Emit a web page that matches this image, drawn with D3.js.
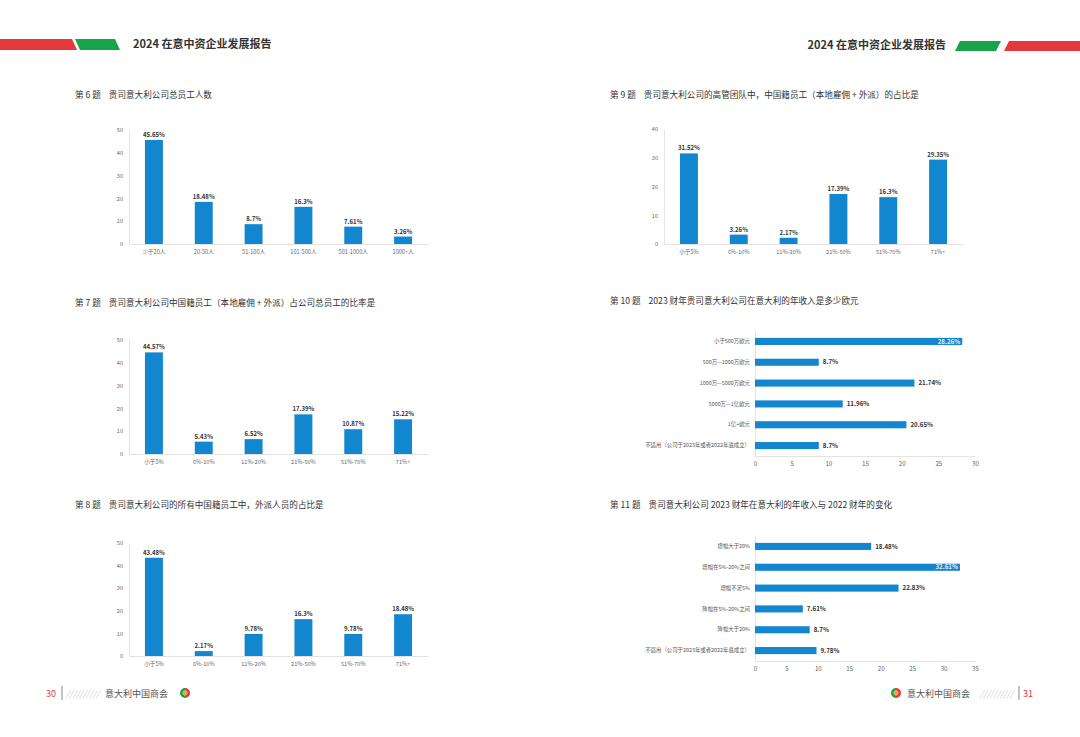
<!DOCTYPE html>
<html>
<head>
<meta charset="utf-8">
<script src="https://cdn.jsdelivr.net/npm/d3@7"></script>
<style>
  body { margin: 0; background: #fff; }
  svg { display: block; font-family: "Noto Sans CJK SC", "Noto Sans", sans-serif; }
</style>
</head>
<body>
<div id="page"></div>
<script>
var sizeCats = ["少于20人", "20-50人", "51-100人", "101-500人", "501-1000人", "1000+人"];
var ratioCats = ["小于5%", "6%-10%", "11%-20%", "21%-50%", "51%-70%", "71%+"];
var q6Values = [45.65, 18.48, 8.7, 16.3, 7.61, 3.26];
var q7Values = [44.57, 5.43, 6.52, 17.39, 10.87, 15.22];
var q8Values = [43.48, 2.17, 9.78, 16.3, 9.78, 18.48];
var q9Values = [31.52, 3.26, 2.17, 17.39, 16.3, 29.35];

var revenueCats = ["小于500万欧元", "500万—1000万欧元", "1000万—5000万欧元", "5000万—1亿欧元", "1亿+欧元", "不适用（公司于2023年或者2022年底成立）"];
var q10Values = [28.26, 8.7, 21.74, 11.96, 20.65, 8.7];
var changeCats = ["增幅大于20%", "增幅在5%-20%之间", "增幅不足5%", "降幅在5%-20%之间", "降幅大于20%", "不适用（公司于2023年或者2022年底成立）"];
var q11Values = [18.48, 32.61, 22.83, 7.61, 8.7, 9.78];

var titles = {
  6: "贵司意大利公司总员工人数",
  7: "贵司意大利公司中国籍员工（本地雇佣 + 外派）占公司总员工的比率是",
  8: "贵司意大利公司的所有中国籍员工中，外派人员的占比是",
  9: "贵司意大利公司的高管团队中，中国籍员工（本地雇佣 + 外派）的占比是",
  10: "2023 财年贵司意大利公司在意大利的年收入是多少欧元",
  11: "贵司意大利公司 2023 财年在意大利的年收入与 2022 财年的变化"
};
var reportTitle = "2024 在意中资企业发展报告";
var orgName = "意大利中国商会";
var pageNums = ["30", "31"];

var W = 1080, H = 737;
var blue = "#1287cf", axisGrey = "#dcdcdc", red = "#e5383b", green = "#17a34a";

var svg = d3.select("#page").append("svg")
  .attr("width", W).attr("height", H);

// ---- header ----
function band(pts, col) {
  svg.append("polygon").attr("points", pts.map(function(p){ return p.join(","); }).join(" ")).attr("fill", col);
}
band([[0,39],[72,39],[77,50],[0,50]], red);
band([[75,39],[115,39],[120,50],[80,50]], green);
svg.append("text").attr("x", 133).attr("y", 48).attr("font-size", 11).attr("font-weight", "bold")
  .attr("fill", "#333").text(reportTitle);

band([[960,41],[1001,41],[996,51],[955,51]], green);
band([[1009,41],[1080,41],[1080,51],[1004,51]], red);
svg.append("text").attr("x", 946).attr("y", 49).attr("font-size", 11).attr("font-weight", "bold")
  .attr("text-anchor", "end").attr("fill", "#333").text(reportTitle);

// ---- question titles ----
function title(num, x, y) {
  var t = svg.append("text").attr("x", x).attr("y", y).attr("font-size", 8.6).attr("fill", "#333")
    .text("第 " + num + " 题");
  var w = t.node().getComputedTextLength();
  svg.append("text").attr("x", x + w + 8).attr("y", y).attr("font-size", 8.6).attr("fill", "#333")
    .text(titles[num]);
}

// ---- vertical bar chart ----
function columnChart(cats, vals, yMax, x0, x1, yTop, yBottom) {
  var x = d3.scaleBand().domain(cats).range([x0, x1]).paddingInner(0.64).paddingOuter(0.32);
  var y = d3.scaleLinear().domain([0, yMax]).range([yBottom, yTop]);
  var g = svg.append("g");

  var ya = g.append("g").attr("transform", "translate(" + x0 + ",0)")
    .call(d3.axisLeft(y).ticks(yMax / 10).tickSize(0).tickPadding(6));
  var xa = g.append("g").attr("transform", "translate(0," + yBottom + ")")
    .call(d3.axisBottom(x).tickSize(0).tickPadding(6));
  [ya, xa].forEach(function(a) {
    a.select(".domain").attr("stroke", axisGrey).attr("stroke-width", 0.8);
    a.selectAll("text").attr("font-size", 5.6).attr("fill", "#666").attr("font-family", "Noto Sans CJK SC");
  });

  g.selectAll("rect.bar").data(vals).enter().append("rect")
    .attr("class", "bar")
    .attr("x", function(d, i) { return x(cats[i]); })
    .attr("width", x.bandwidth())
    .attr("y", function(d) { return y(d); })
    .attr("height", function(d) { return yBottom - y(d); })
    .attr("fill", blue);

  g.selectAll("text.val").data(vals).enter().append("text")
    .attr("class", "val")
    .attr("x", function(d, i) { return x(cats[i]) + x.bandwidth() / 2; })
    .attr("y", function(d) { return y(d) - 3; })
    .attr("text-anchor", "middle").attr("font-size", 6).attr("font-weight", "bold").attr("fill", "#333")
    .text(function(d) { return d + "%"; });
}

// ---- horizontal bar chart ----
function barChart(cats, vals, xMax, x0, x1, yTop, yBottom) {
  var x = d3.scaleLinear().domain([0, xMax]).range([x0, x1]);
  var y = d3.scaleBand().domain(cats).range([yTop, yBottom]).paddingInner(0.66).paddingOuter(0.33);
  var g = svg.append("g");

  var xa = g.append("g").attr("transform", "translate(0," + yBottom + ")")
    .call(d3.axisBottom(x).ticks(xMax / 5).tickSize(0).tickPadding(6));
  var ya = g.append("g").attr("transform", "translate(" + x0 + ",0)")
    .call(d3.axisLeft(y).tickSize(0).tickPadding(5));
  xa.select(".domain").attr("stroke", axisGrey).attr("stroke-width", 0.8);
  ya.select(".domain").attr("stroke", axisGrey).attr("stroke-width", 0.8);
  xa.selectAll("text").attr("font-size", 6.2).attr("fill", "#666").attr("font-family", "Noto Sans CJK SC");
  ya.selectAll("text").attr("font-size", 5.4).attr("fill", "#555").attr("font-family", "Noto Sans CJK SC");

  g.selectAll("rect.bar").data(vals).enter().append("rect")
    .attr("class", "bar")
    .attr("x", x0)
    .attr("y", function(d, i) { return y(cats[i]); })
    .attr("height", y.bandwidth())
    .attr("width", function(d) { return x(d) - x0; })
    .attr("fill", blue);

  g.selectAll("text.val").data(vals).enter().append("text")
    .attr("class", "val")
    .attr("y", function(d, i) { return y(cats[i]) + y.bandwidth() / 2; })
    .attr("dy", "0.35em").attr("font-size", 6.2).attr("font-weight", "bold")
    .each(function(d) {
      var inside = x(d) + 26 > x1;
      d3.select(this)
        .attr("x", inside ? x(d) - 2 : x(d) + 4)
        .attr("text-anchor", inside ? "end" : "start")
        .attr("fill", inside ? "#e4edf6" : "#333");
    })
    .text(function(d) { return d + "%"; });
}

// left page
title(6, 75, 98);
columnChart(sizeCats, q6Values, 50, 129, 428, 130, 244);
title(7, 75, 306);
columnChart(ratioCats, q7Values, 50, 129, 428, 340, 454);
title(8, 75, 508);
columnChart(ratioCats, q8Values, 50, 129, 428, 543, 656);

// right page
title(9, 610, 98);
columnChart(ratioCats, q9Values, 40, 664, 963, 129, 244);
title(10, 610, 304);
barChart(revenueCats, q10Values, 30, 755, 975, 331, 456);
title(11, 610, 508);
barChart(changeCats, q11Values, 35, 755, 975, 536, 661);

// ---- footer ----
function logo(cx, cy) {
  var arc = d3.arc().innerRadius(2.4).outerRadius(5);
  var gl = svg.append("g").attr("transform", "translate(" + cx + "," + cy + ")");
  gl.append("path").attr("d", arc({ startAngle: Math.PI, endAngle: 2 * Math.PI })).attr("fill", green);
  gl.append("path").attr("d", arc({ startAngle: 0, endAngle: Math.PI })).attr("fill", red);
  gl.append("circle").attr("r", 2.4).attr("fill", "#f4a23c");
}
function footer(side) {
  var y = 697;
  if (side === "left") {
    svg.append("text").attr("x", 46).attr("y", y).attr("font-size", 9).attr("fill", red).text(pageNums[0]);
    svg.append("line").attr("x1", 62).attr("x2", 62).attr("y1", 686).attr("y2", 700).attr("stroke", "#999").attr("stroke-width", 1.2);
    svg.append("text").attr("x", 66).attr("y", y).attr("font-size", 8.5).attr("fill", "#ccc").attr("font-style", "italic").text("//////////");
    svg.append("text").attr("x", 105).attr("y", y).attr("font-size", 9).attr("fill", "#555").text(orgName);
    logo(185, 693);
  } else {
    logo(896, 693);
    svg.append("text").attr("x", 907).attr("y", y).attr("font-size", 9).attr("fill", "#555").text(orgName);
    svg.append("text").attr("x", 980).attr("y", y).attr("font-size", 8.5).attr("fill", "#ccc").attr("font-style", "italic").text("//////////");
    svg.append("line").attr("x1", 1019).attr("x2", 1019).attr("y1", 686).attr("y2", 700).attr("stroke", "#999").attr("stroke-width", 1.2);
    svg.append("text").attr("x", 1023).attr("y", y).attr("font-size", 9).attr("fill", red).text(pageNums[1]);
  }
}
footer("left");
footer("right");
</script>
</body>
</html>
